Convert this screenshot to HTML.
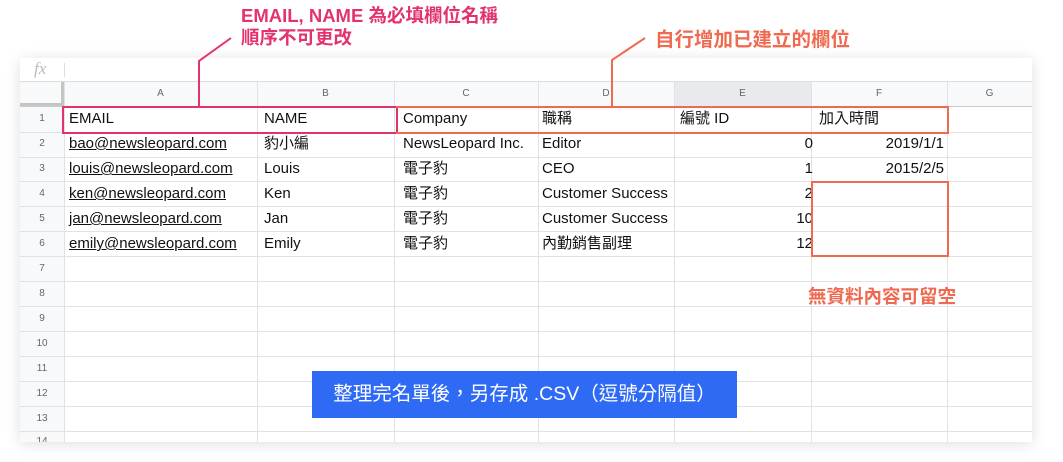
<!DOCTYPE html>
<html><head><meta charset="utf-8"><style>
body{margin:0;width:1063px;height:462px;background:#fff;position:relative;overflow:hidden;font-family:"Liberation Sans","Noto Sans CJK TC",sans-serif}
.a{position:absolute}
#panel{left:20px;top:58px;width:1012px;height:384px;background:#fff;box-shadow:0 2px 14px rgba(0,0,0,0.13);overflow:hidden}
.vl{position:absolute;width:1px;background:#e2e2e2}
.hl{position:absolute;height:1px;background:#e2e2e2}
.ch{position:absolute;top:24px;height:24px;line-height:24px;font-size:10px;color:#666;text-align:center}
.rn{position:absolute;left:0;width:44px;font-size:10px;color:#666;text-align:center}
.c{position:absolute;font-size:15px;color:#111;white-space:nowrap;height:20px;line-height:20px}
.r{text-align:right}
.u{text-decoration:underline}
</style></head><body>
<div id="panel" class="a">
  <div class="a" style="left:0;top:0;width:1012px;height:23px;border-bottom:1px solid #ddd"></div>
  <div class="a" style="left:14px;top:1px;font-family:'Liberation Serif',serif;font-style:italic;font-size:17px;color:#bbb">fx</div>
  <div class="a" style="left:44px;top:5px;width:1px;height:14px;background:#ddd"></div>
  <div class="a" style="left:0;top:24px;width:1012px;height:24px;background:#f8f9fa"></div>
  <div class="a" style="left:0;top:48px;width:44px;height:336px;background:#f8f9fa"></div>
  <div class="a" style="left:654px;top:24px;width:137px;height:24px;background:#e8eaed"></div>
  <div class="a" style="left:41px;top:24px;width:4px;height:24px;background:#c4c4c4"></div>
  <div class="a" style="left:0;top:45px;width:44px;height:4px;background:#c4c4c4"></div>
  <div class="ch" style="left:44px;width:193px">A</div>
  <div class="ch" style="left:237px;width:137px">B</div>
  <div class="ch" style="left:374px;width:144px">C</div>
  <div class="ch" style="left:518px;width:136px">D</div>
  <div class="ch" style="left:654px;width:137px">E</div>
  <div class="ch" style="left:791px;width:136px">F</div>
  <div class="ch" style="left:927px;width:85px">G</div>
  <div class="vl" style="left:44px;top:24px;height:360px"></div>
  <div class="vl" style="left:237px;top:24px;height:360px"></div>
  <div class="vl" style="left:374px;top:24px;height:360px"></div>
  <div class="vl" style="left:518px;top:24px;height:360px"></div>
  <div class="vl" style="left:654px;top:24px;height:360px"></div>
  <div class="vl" style="left:791px;top:24px;height:360px"></div>
  <div class="vl" style="left:927px;top:24px;height:360px"></div>
  <div class="hl" style="left:0;top:48px;width:1012px;background:#ccc"></div>
  <div class="hl" style="left:0;top:74px;width:1012px"></div>
  <div class="hl" style="left:0;top:99px;width:1012px"></div>
  <div class="hl" style="left:0;top:123px;width:1012px"></div>
  <div class="hl" style="left:0;top:148px;width:1012px"></div>
  <div class="hl" style="left:0;top:173px;width:1012px"></div>
  <div class="hl" style="left:0;top:198px;width:1012px"></div>
  <div class="hl" style="left:0;top:223px;width:1012px"></div>
  <div class="hl" style="left:0;top:248px;width:1012px"></div>
  <div class="hl" style="left:0;top:273px;width:1012px"></div>
  <div class="hl" style="left:0;top:298px;width:1012px"></div>
  <div class="hl" style="left:0;top:323px;width:1012px"></div>
  <div class="hl" style="left:0;top:348px;width:1012px"></div>
  <div class="hl" style="left:0;top:373px;width:1012px"></div>
  <div class="rn" style="top:55px">1</div>
  <div class="rn" style="top:80px">2</div>
  <div class="rn" style="top:105px">3</div>
  <div class="rn" style="top:130px">4</div>
  <div class="rn" style="top:155px">5</div>
  <div class="rn" style="top:180px">6</div>
  <div class="rn" style="top:205px">7</div>
  <div class="rn" style="top:230px">8</div>
  <div class="rn" style="top:255px">9</div>
  <div class="rn" style="top:280px">10</div>
  <div class="rn" style="top:305px">11</div>
  <div class="rn" style="top:330px">12</div>
  <div class="rn" style="top:355px">13</div>
  <div class="rn" style="top:378px">14</div>
</div>
<div class="c" style="left:69px;top:109px">EMAIL</div>
<div class="c" style="left:264px;top:109px">NAME</div>
<div class="c" style="left:403px;top:109px">Company</div>
<div class="c" style="left:542px;top:109px">職稱</div>
<div class="c" style="left:680px;top:109px">編號 ID</div>
<div class="c" style="left:819px;top:109px">加入時間</div>

<div class="c u" style="left:69px;top:134px">bao@newsleopard.com</div>
<div class="c" style="left:264px;top:134px">豹小編</div>
<div class="c" style="left:403px;top:134px">NewsLeopard Inc.</div>
<div class="c" style="left:542px;top:134px">Editor</div>
<div class="c r" style="left:680px;top:134px;width:133px">0</div>
<div class="c r" style="left:819px;top:134px;width:125px">2019/1/1</div>

<div class="c u" style="left:69px;top:159px">louis@newsleopard.com</div>
<div class="c" style="left:264px;top:159px">Louis</div>
<div class="c" style="left:403px;top:159px">電子豹</div>
<div class="c" style="left:542px;top:159px">CEO</div>
<div class="c r" style="left:680px;top:159px;width:133px">1</div>
<div class="c r" style="left:819px;top:159px;width:125px">2015/2/5</div>

<div class="c u" style="left:69px;top:184px">ken@newsleopard.com</div>
<div class="c" style="left:264px;top:184px">Ken</div>
<div class="c" style="left:403px;top:184px">電子豹</div>
<div class="c" style="left:542px;top:184px">Customer Success</div>
<div class="c r" style="left:680px;top:184px;width:133px">2</div>

<div class="c u" style="left:69px;top:209px">jan@newsleopard.com</div>
<div class="c" style="left:264px;top:209px">Jan</div>
<div class="c" style="left:403px;top:209px">電子豹</div>
<div class="c" style="left:542px;top:209px">Customer Success</div>
<div class="c r" style="left:680px;top:209px;width:133px">10</div>

<div class="c u" style="left:69px;top:234px">emily@newsleopard.com</div>
<div class="c" style="left:264px;top:234px">Emily</div>
<div class="c" style="left:403px;top:234px">電子豹</div>
<div class="c" style="left:542px;top:234px">內勤銷售副理</div>
<div class="c r" style="left:680px;top:234px;width:133px">12</div>

<div class="a" style="left:62px;top:106px;width:332px;height:24px;border:2px solid #e3336e"></div>
<div class="a" style="left:396px;top:106px;width:551px;height:24px;border:2px solid #ef6a50;border-left:none"></div>
<div class="a" style="left:811px;top:181px;width:134px;height:72px;border:2px solid #ef6a50"></div>

<svg class="a" style="left:0;top:0" width="1063" height="462">
  <polyline points="199,106 199,61 231,38" fill="none" stroke="#e3336e" stroke-width="2"/>
  <polyline points="612,106 612,60 645,38" fill="none" stroke="#ef6a50" stroke-width="2"/>
</svg>
<div class="a" style="left:241px;top:5px;font-size:18.5px;line-height:22px;color:#e3336e;font-weight:bold">EMAIL, NAME 為必填欄位名稱<br>順序不可更改</div>
<div class="a" style="left:655px;top:29px;font-size:19.5px;line-height:22px;color:#ef6a50;font-weight:bold">自行增加已建立的欄位</div>
<div class="a" style="left:808px;top:286px;font-size:18.5px;line-height:22px;color:#ef6a50;font-weight:bold">無資料內容可留空</div>
<div class="a" style="left:312px;top:371px;width:425px;height:47px;background:#2f6af5;color:#fff;font-size:19.5px;line-height:47px;text-align:center">整理完名單後，另存成 .CSV（逗號分隔值）</div>
</body></html>
